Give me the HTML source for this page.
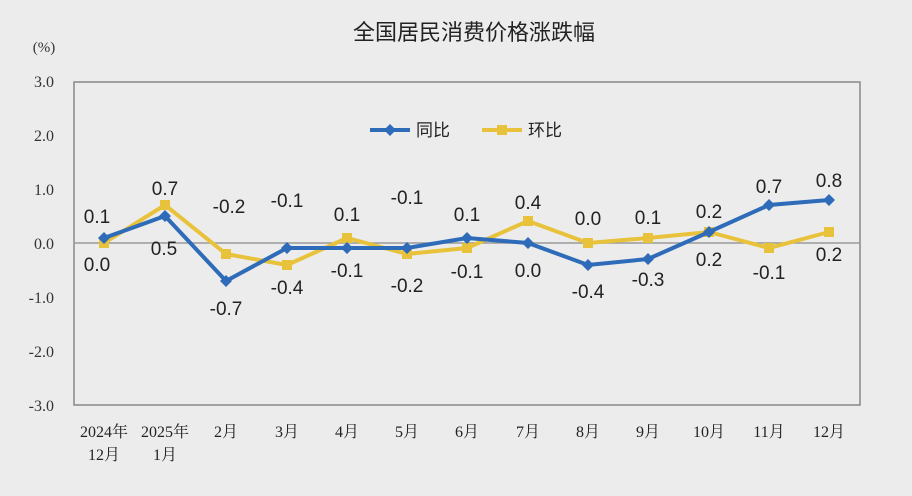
<!DOCTYPE html>
<html><head><meta charset="utf-8"><style>
html,body{margin:0;padding:0;background:#ececec;}
svg{display:block;font-family:"Liberation Sans","Noto Sans CJK SC",sans-serif;}
</style></head><body>
<svg width="912" height="496" viewBox="0 0 912 496">
<rect width="912" height="496" fill="#ececec"/>
<text x="474" y="40" font-size="22" text-anchor="middle" fill="#222">全国居民消费价格涨跌幅</text>
<text x="44" y="52" font-size="15" text-anchor="middle" fill="#333" font-family="Liberation Serif,serif">(%)</text>
<rect x="74" y="82" width="786" height="323" fill="none" stroke="#888" stroke-width="1.5"/>
<line x1="74" y1="243" x2="860" y2="243" stroke="#999" stroke-width="1.5"/>
<g font-size="16" fill="#333" text-anchor="end" font-family="Liberation Serif,serif">
<text x="54" y="87">3.0</text><text x="54" y="141">2.0</text><text x="54" y="195">1.0</text>
<text x="54" y="249">0.0</text><text x="54" y="303">-1.0</text><text x="54" y="357">-2.0</text><text x="54" y="411">-3.0</text>
</g>
<g font-size="16" fill="#222" text-anchor="middle" font-family="Liberation Serif,Noto Serif CJK SC,serif">
<text x="104" y="437">2024年</text><text x="104" y="460">12月</text>
<text x="165" y="437">2025年</text><text x="165" y="460">1月</text>
<text x="226" y="437">2月</text><text x="287" y="437">3月</text><text x="347" y="437">4月</text>
<text x="407" y="437">5月</text><text x="467" y="437">6月</text><text x="528" y="437">7月</text>
<text x="588" y="437">8月</text><text x="648" y="437">9月</text><text x="709" y="437">10月</text>
<text x="769" y="437">11月</text><text x="829" y="437">12月</text>
</g>
<polyline fill="none" stroke="#e8c23a" stroke-width="4" points="104,243 165,205 226,254 287,265 347,238 407,254 467,248 528,221 588,243 648,238 709,232 769,248 829,232"/>
<g fill="#e8c23a">
<rect x="99" y="238" width="10" height="10"/><rect x="160" y="200" width="10" height="10"/><rect x="221" y="249" width="10" height="10"/><rect x="282" y="260" width="10" height="10"/><rect x="342" y="233" width="10" height="10"/><rect x="402" y="249" width="10" height="10"/><rect x="462" y="243" width="10" height="10"/><rect x="523" y="216" width="10" height="10"/><rect x="583" y="238" width="10" height="10"/><rect x="643" y="233" width="10" height="10"/><rect x="704" y="227" width="10" height="10"/><rect x="764" y="243" width="10" height="10"/><rect x="824" y="227" width="10" height="10"/>
</g>
<polyline fill="none" stroke="#2e6bb8" stroke-width="4" points="104,238 165,216 226,281 287,248 347,248 407,248 467,238 528,243 588,265 648,259 709,232 769,205 829,200"/>
<g fill="#2e6bb8">
<path d="M104,232l6,6-6,6-6-6z M165,210l6,6-6,6-6-6z M226,275l6,6-6,6-6-6z M287,242l6,6-6,6-6-6z M347,242l6,6-6,6-6-6z M407,242l6,6-6,6-6-6z M467,232l6,6-6,6-6-6z M528,237l6,6-6,6-6-6z M588,259l6,6-6,6-6-6z M648,253l6,6-6,6-6-6z M709,226l6,6-6,6-6-6z M769,199l6,6-6,6-6-6z M829,194l6,6-6,6-6-6z"/>
</g>
<g font-size="19" fill="#222" text-anchor="middle">
<text x="97" y="223">0.1</text><text x="97" y="271">0.0</text>
<text x="165" y="195">0.7</text><text x="164" y="255">0.5</text>
<text x="229" y="213">-0.2</text><text x="226" y="315">-0.7</text>
<text x="287" y="207">-0.1</text><text x="287" y="294">-0.4</text>
<text x="347" y="221">0.1</text><text x="347" y="277">-0.1</text>
<text x="407" y="204">-0.1</text><text x="407" y="292">-0.2</text>
<text x="467" y="221">0.1</text><text x="467" y="278">-0.1</text>
<text x="528" y="209">0.4</text><text x="528" y="277">0.0</text>
<text x="588" y="225">0.0</text><text x="588" y="298">-0.4</text>
<text x="648" y="224">0.1</text><text x="648" y="286">-0.3</text>
<text x="709" y="218">0.2</text><text x="709" y="266">0.2</text>
<text x="769" y="193">0.7</text><text x="769" y="279">-0.1</text>
<text x="829" y="187">0.8</text><text x="829" y="261">0.2</text>
</g>
<line x1="370" y1="130" x2="410" y2="130" stroke="#2e6bb8" stroke-width="4"/>
<path d="M390,124l6,6-6,6-6-6z" fill="#2e6bb8"/>
<text x="416" y="136" font-size="17" fill="#222">同比</text>
<line x1="482" y1="130" x2="522" y2="130" stroke="#e8c23a" stroke-width="4"/>
<rect x="497" y="125" width="10" height="10" fill="#e8c23a"/>
<text x="528" y="136" font-size="17" fill="#222">环比</text>
</svg>
</body></html>
